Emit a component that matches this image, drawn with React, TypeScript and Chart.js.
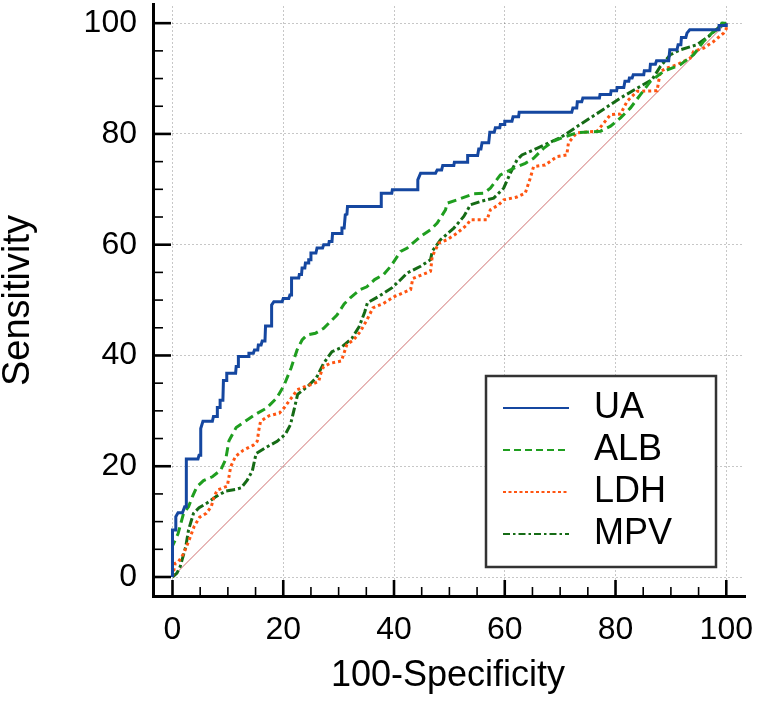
import React, { useEffect, useRef } from 'react';
import { Chart, registerables } from 'chart.js';

Chart.register(...registerables);

// ---------- data ----------
const AXIS_TICKS = [0, 20, 40, 60, 80, 100];
const X_TITLE = '100-Specificity';
const Y_TITLE = 'Sensitivity';
const SERIES_NAMES = ['UA', 'ALB', 'LDH', 'MPV'];

// [100-Specificity, Sensitivity]
const UA: [number, number][] = [
  [0, 0], [0, 8.5], [0.6, 8.5], [0.6, 10.9], [1.0, 11.6], [1.8, 11.6], [2.2, 12.7], [2.5, 12.7],
  [2.5, 21.3], [4.6, 21.3], [4.8, 22], [5.1, 22], [5.1, 26.8], [5.5, 28.1], [7.2, 28.1], [7.4, 29],
  [8.1, 29], [8.1, 30.6], [8.6, 30.6], [8.6, 31.9], [9.1, 31.9], [9.2, 35.5], [9.8, 35.5], [9.8, 36.8],
  [11.4, 36.8], [11.5, 38], [11.9, 38], [11.9, 39.8], [13.7, 39.8], [13.8, 40.4], [14.6, 40.4], [14.8, 41],
  [15.4, 41], [15.5, 41.9], [16.0, 41.9], [16.2, 42.6], [16.7, 42.6], [16.8, 45.3], [17.8, 45.3], [17.9, 49.1],
  [18.3, 49.7], [19.8, 49.7], [20.0, 50.3], [21.0, 50.3], [21.2, 50.9], [21.5, 50.9], [21.5, 54], [22.8, 54],
  [22.9, 54.6], [23.3, 54.6], [23.4, 55.8], [23.9, 55.8], [24.0, 56.7], [24.5, 56.7], [24.6, 57.3], [24.9, 57.3],
  [25.0, 58.5], [25.9, 58.5], [26.1, 59.4], [27.1, 59.4], [27.3, 60], [28.2, 60], [28.3, 60.6], [28.8, 60.6],
  [28.9, 62], [30.5, 62], [30.6, 63], [31.0, 63], [31.2, 65.4], [31.5, 65.5], [31.6, 66.9], [37.7, 66.9],
  [37.7, 69.3], [39.6, 69.3], [39.7, 69.9], [44.3, 69.9], [44.3, 71.7], [44.8, 72.9], [47.5, 72.9], [47.8, 73.5],
  [48.6, 73.5], [48.8, 74.3], [50.8, 74.3], [50.9, 74.9], [53.2, 74.9], [53.3, 76.1], [55.1, 76.1], [55.3, 77.3],
  [55.7, 77.3], [55.9, 78.4], [57.1, 78.4], [57.3, 80.3], [58.1, 80.3], [58.3, 81.1], [59.1, 81.1], [59.2, 81.7],
  [59.9, 81.7], [60.0, 82.3], [61.3, 82.3], [61.5, 83.1], [62.5, 83.1], [62.6, 83.9], [72.1, 83.9], [72.3, 84.7],
  [73.0, 84.7], [73.1, 85.8], [73.9, 85.8], [74.1, 86.5], [77.1, 86.5], [77.2, 87.1], [79.1, 87.1], [79.2, 87.8],
  [80.2, 87.8], [80.3, 88.4], [81.5, 88.4], [81.7, 89.5], [82.4, 89.5], [82.5, 90.1], [83.0, 90.1], [83.2, 90.7],
  [85.1, 90.7], [85.2, 91.4], [86.2, 91.4], [86.3, 92.6], [87.2, 92.6], [87.4, 93.2], [89.6, 93.2], [89.8, 95.2],
  [91.1, 95.2], [91.3, 96.1], [91.8, 96.1], [91.9, 97.4], [92.7, 97.4], [92.9, 98.2], [93.4, 98.8], [98.7, 98.8],
  [98.7, 99.6], [100, 99.6], [100, 100],
];

const ALB: [number, number][] = [
  [0, 0], [0, 5.6], [1.0, 7.8], [2.0, 11.5], [2.9, 12.7], [3.6, 14.5], [4.4, 16.3], [5.6, 17.4],
  [7.2, 18.1], [8.7, 19.3], [9.6, 21.2], [10.2, 24.6], [11.5, 27.0], [13.4, 28.3], [15.2, 29.5], [17.0, 30.5],
  [18.8, 32.3], [20.1, 34.5], [21.4, 37.7], [22.5, 41.0], [23.4, 42.8], [24.3, 43.7], [25.8, 44.0], [27.3, 44.9],
  [29.7, 47.3], [31.0, 49.3], [32.1, 50.4], [33.9, 51.9], [35.1, 52.4], [36.5, 53.7], [38.1, 54.6], [39.4, 56.1],
  [41.2, 58.8], [42.4, 59.4], [44.8, 61.5], [46.6, 62.7], [47.8, 63.9], [49.3, 66.3], [49.6, 67.5], [51.4, 68.1],
  [54.4, 69.2], [56.2, 69.3], [57.4, 70.2], [59.2, 72.6], [61.6, 73.8], [63.7, 74.7], [65.2, 75.6], [67.0, 77.4],
  [68.8, 78.7], [70.6, 79.4], [73.0, 80.2], [77.3, 80.5], [79.1, 81.4], [80.9, 82.9], [82.7, 84.7], [84.5, 87.1],
  [86.3, 89.5], [88.7, 91.3], [91.7, 92.5], [94.1, 94.3], [95.9, 96.7], [97.7, 98.5], [98.9, 99.1], [99.2, 100],
  [100, 100],
];

const LDH: [number, number][] = [
  [0, 0], [0.5, 2.5], [1.1, 2.8], [2.0, 4.2], [2.9, 6.4], [3.9, 9.1], [4.9, 10.8], [6.1, 11.5],
  [7.0, 12.7], [7.5, 14.5], [8.1, 15.7], [9.9, 16.4], [10.2, 18.1], [10.5, 19.9], [11.4, 21.8], [12.8, 22.9],
  [14.6, 23.8], [15.3, 24.5], [15.6, 26.6], [15.9, 28.1], [17.4, 29.1], [19.3, 29.6], [20.2, 30.6], [21.0, 31.7],
  [21.9, 32.9], [22.5, 33.8], [24.2, 34.5], [25.2, 34.8], [26.4, 35.3], [26.8, 36.8], [27.3, 38.0], [28.5, 38.6],
  [30.5, 39.0], [31.5, 42.0], [32.7, 42.8], [33.9, 44.3], [35.1, 46.4], [36.2, 48.6], [38.1, 49.4], [40.0, 50.6],
  [43.0, 51.9], [43.4, 53.9], [46.6, 55.2], [46.9, 57.9], [48.1, 60.3], [49.6, 60.9], [51.4, 62.1], [53.2, 63.6],
  [53.8, 64.5], [56.8, 64.5], [57.4, 66.3], [58.9, 67.2], [59.8, 68.1], [62.2, 68.6], [63.7, 69.3], [64.6, 72.0],
  [65.2, 74.1], [67.3, 74.4], [69.4, 75.9], [71.2, 76.2], [71.5, 78.4], [73.0, 80.2], [76.7, 80.5], [79.1, 83.5],
  [80.9, 83.6], [82.1, 85.9], [83.9, 87.7], [87.5, 87.8], [88.1, 91.3], [89.3, 91.9], [91.1, 92.5], [93.5, 93.7],
  [94.1, 94.9], [95.9, 95.5], [97.7, 96.7], [99.5, 98.2], [100, 99], [100, 100],
];

const MPV: [number, number][] = [
  [0, 0], [0.8, 0.7], [1.4, 1.9], [2.4, 5.5], [2.9, 8.5], [3.8, 11.5], [4.8, 12.5], [6.3, 13.4],
  [8.0, 14.6], [9.6, 15.5], [11.4, 15.8], [12.4, 16.1], [13.5, 17.5], [14.4, 19.1], [15.1, 22.3], [16.9, 23.4],
  [18.9, 24.5], [20.4, 25.8], [21.3, 27.5], [22.0, 30.4], [22.6, 33.0], [24.4, 34.4], [26.0, 36.0], [27.3, 38.6],
  [28.8, 40.7], [30.4, 41.4], [32.4, 43.1], [33.7, 45.2], [34.7, 47.8], [35.2, 49.5], [37.3, 50.7], [39.6, 52.2],
  [41.0, 53.5], [42.4, 54.9], [44.8, 56.1], [46.6, 57.3], [46.9, 58.8], [48.4, 60.9], [50.8, 63.0], [52.6, 65.1],
  [53.8, 67.2], [55.6, 67.8], [58.0, 68.4], [59.8, 70.2], [61.0, 72.9], [62.2, 75.3], [63.1, 76.2], [65.8, 77.4],
  [70.0, 79.3], [73.6, 81.7], [77.3, 84.1], [80.9, 86.5], [84.5, 88.6], [86.6, 89.8], [88.1, 92.2], [89.9, 94.3],
  [91.7, 95.2], [94.7, 96.1], [96.8, 97.6], [98.6, 99.2], [99.3, 100], [100, 100],
];

const REFERENCE_LINE: [number, number][] = [[0, 0], [100, 100]];

// ---------- styles ----------
const FONT = '"Liberation Sans", Arial, Helvetica, sans-serif';
const SERIES_STYLE = [
  { color: '#1547a0', width: 3, dash: [] as number[], legendDash: [] as number[] },
  { color: '#1f9e1f', width: 3, dash: [9, 5], legendDash: [7, 4] },
  { color: '#ff5511', width: 3, dash: [3, 3], legendDash: [3, 2.5] },
  { color: '#156b15', width: 3, dash: [9, 3, 3, 3], legendDash: [7, 3, 2.5, 3] },
];

const rocDecor = {
  id: 'rocDecor',
  afterDraw(chart: any) {
    const { ctx, chartArea: ca } = chart;
    const xs = chart.scales.x;
    const ys = chart.scales.y;
    ctx.save();
    ctx.strokeStyle = '#000';
    ctx.lineCap = 'butt';

    // axis lines
    ctx.lineWidth = 3;
    ctx.beginPath();
    ctx.moveTo(ca.left + 1.5, ca.top - 3);
    ctx.lineTo(ca.left + 1.5, ca.bottom + 1.5);
    ctx.lineTo(ca.right + 2, ca.bottom + 1.5);
    ctx.stroke();

    // inward tick marks (major every 20, minor every 5)
    for (let v = 0; v <= 100; v += 5) {
      const major = v % 20 === 0;
      ctx.lineWidth = major ? 2.6 : 1.6;
      const py = ys.getPixelForValue(v);
      ctx.beginPath();
      ctx.moveTo(ca.left, py);
      ctx.lineTo(ca.left + (major ? 19 : 11), py);
      ctx.stroke();
      const px = xs.getPixelForValue(v);
      ctx.beginPath();
      ctx.moveTo(px, ca.bottom);
      ctx.lineTo(px, ca.bottom - (major ? 15 : 8));
      ctx.stroke();
    }

    // legend box
    const bw = 230;
    const bh = 191;
    const bx = ca.right - 28 - bw;
    const by = ca.bottom - 28 - bh;
    ctx.fillStyle = '#fff';
    ctx.fillRect(bx, by, bw, bh);
    ctx.lineWidth = 2.5;
    ctx.strokeStyle = '#333';
    ctx.strokeRect(bx, by, bw, bh);

    ctx.font = `36px ${FONT}`;
    ctx.textBaseline = 'middle';
    ctx.textAlign = 'left';
    SERIES_NAMES.forEach((name, i) => {
      const st = SERIES_STYLE[i];
      const ry = by + 32 + i * 42;
      ctx.strokeStyle = st.color;
      ctx.lineWidth = 2;
      ctx.setLineDash(st.legendDash);
      ctx.beginPath();
      ctx.moveTo(bx + 17, ry);
      ctx.lineTo(bx + 83, ry);
      ctx.stroke();
      ctx.setLineDash([]);
      ctx.fillStyle = '#000';
      ctx.fillText(name, bx + 108, ry);
    });
    ctx.restore();
  },
};

export default function App() {
  const canvasRef = useRef<HTMLCanvasElement | null>(null);

  useEffect(() => {
    const canvas = canvasRef.current;
    if (!canvas) return;
    const series = [UA, ALB, LDH, MPV];
    const chart = new Chart(canvas, {
      type: 'scatter',
      data: {
        datasets: [
          ...series.map((pts, i) => ({
            label: SERIES_NAMES[i],
            data: pts.map(([x, y]) => ({ x, y })),
            showLine: true,
            pointRadius: 0,
            borderColor: SERIES_STYLE[i].color,
            backgroundColor: SERIES_STYLE[i].color,
            borderWidth: SERIES_STYLE[i].width,
            borderDash: SERIES_STYLE[i].dash,
            borderCapStyle: 'butt' as const,
            borderJoinStyle: 'miter' as const,
            tension: 0,
            fill: false,
          })),
          {
            label: 'Reference',
            data: REFERENCE_LINE.map(([x, y]) => ({ x, y })),
            showLine: true,
            pointRadius: 0,
            borderColor: '#cf6e6e',
            borderWidth: 1,
            tension: 0,
            fill: false,
          },
        ],
      },
      options: {
        responsive: false,
        animation: false,
        events: [],
        layout: { padding: { top: 6, right: 16, left: 0, bottom: 0 } },
        plugins: {
          legend: { display: false },
          tooltip: { enabled: false },
        },
        scales: {
          x: {
            type: 'linear',
            min: -3.7,
            max: 103.2,
            afterBuildTicks: (s: any) => {
              s.ticks = AXIS_TICKS.map((v) => ({ value: v }));
            },
            afterFit: (s: any) => {
              s.height = 111;
              s.paddingLeft = 0;
              s.paddingRight = 0;
            },
            grid: { color: 'rgba(0,0,0,0.22)', lineWidth: 1, drawTicks: false },
            border: { display: false, dash: [2, 2] },
            ticks: {
              color: '#000',
              font: { family: FONT, size: 32 },
              padding: 16,
              maxRotation: 0,
              autoSkip: false,
              callback: (v: any) => String(v),
            },
            title: {
              display: true,
              text: X_TITLE,
              color: '#000',
              font: { family: FONT, size: 36, lineHeight: 1 },
              padding: { top: 0, bottom: 12 },
            },
          },
          y: {
            type: 'linear',
            min: -3.25,
            max: 103.1,
            afterBuildTicks: (s: any) => {
              s.ticks = AXIS_TICKS.map((v) => ({ value: v }));
            },
            afterFit: (s: any) => {
              s.width = 152;
              s.paddingTop = 0;
              s.paddingBottom = 0;
            },
            grid: { color: 'rgba(0,0,0,0.22)', lineWidth: 1, drawTicks: false },
            border: { display: false, dash: [2, 2] },
            ticks: {
              color: '#000',
              font: { family: FONT, size: 32 },
              padding: 15,
              autoSkip: false,
              callback: (v: any) => String(v),
            },
            title: {
              display: true,
              text: Y_TITLE,
              color: '#000',
              font: { family: FONT, size: 38, lineHeight: 1 },
              padding: { top: 0, bottom: 0 },
            },
          },
        },
      },
      plugins: [rocDecor],
    } as any);
    return () => chart.destroy();
  }, []);

  return (
    <div style={{ position: 'absolute', left: 0, top: 0, width: 760, height: 706, background: '#fff' }}>
      <canvas ref={canvasRef} width={760} height={706} style={{ display: 'block' }} />
    </div>
  );
}
